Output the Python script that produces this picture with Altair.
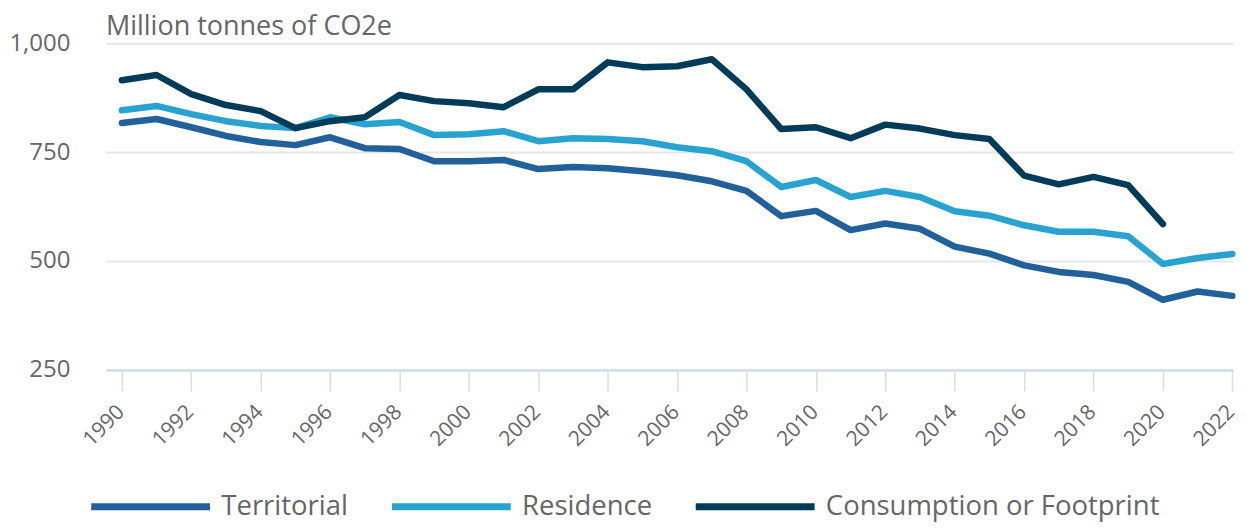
import altair as alt
import pandas as pd

years = list(range(1990, 2023))
territorial = [817, 826, 807, 787, 773, 766, 784, 759, 757, 729, 729, 732, 711, 716, 713,
               706, 697, 683, 661, 603, 615, 571, 586, 574, 533, 517, 490, 475, 468, 452,
               411, 430, 420]
residence = [846, 856, 837, 821, 810, 805, 830, 814, 819, 789, 791, 798, 775, 782, 780,
             775, 761, 752, 729, 670, 686, 647, 661, 647, 614, 604, 582, 567, 567, 557,
             493, 507, 516]
consumption = [915, 927, 883, 858, 844, 805, 821, 830, 881, 867, 862, 853, 894, 894, 956,
               945, 947, 963, 894, 803, 807, 782, 813, 804, 789, 780, 696, 676, 693, 674,
               585]

series = ["Territorial", "Residence", "Consumption or Footprint"]
colors = ["#22609a", "#28a3d0", "#003c57"]
tick_years = list(range(1990, 2023, 2))

rows = []
for name, vals in zip(series, [territorial, residence, consumption]):
    for yr, v in zip(years, vals):
        rows.append({"year": yr, "value": v, "series": name})
df = pd.DataFrame(rows)

font = "Open Sans"
grey = "#666666"

chart = alt.Chart(df).mark_line(strokeWidth=6.5, strokeCap="round", strokeJoin="round").encode(
    x=alt.X("year:Q",
            scale=alt.Scale(domain=[1989.54, 2022.02], nice=False, zero=False),
            axis=alt.Axis(values=tick_years, format="d", labelAngle=-45, title=None,
                          grid=False, tickSize=21, tickColor="#d5ddea", tickWidth=1.5,
                          domainColor="#d5ddea", domainWidth=2.5,
                          labelFontSize=21, labelColor=grey, labelFont=font,
                          labelAlign="right", labelBaseline="alphabetic",
                          labelPadding=22, labelOffset=3)),
    y=alt.Y("value:Q",
            scale=alt.Scale(domain=[250, 1000], nice=False, zero=False),
            axis=alt.Axis(values=[250, 500, 750, 1000], format=",d", title=None,
                          domain=False, ticks=False, gridColor="#e6e6e6", gridWidth=2,
                          labelFontSize=24, labelColor=grey, labelFont=font,
                          labelPadding=36)),
    color=alt.Color("series:N",
                    scale=alt.Scale(domain=series, range=colors),
                    legend=alt.Legend(title=None, orient="none", direction="horizontal",
                                      legendX=31, legendY=450,
                                      symbolType="M-8,0H8", symbolSize=221,
                                      symbolStrokeWidth=7,
                                      labelFontSize=27.5, labelColor=grey, labelFont=font,
                                      labelLimit=500,
                                      labelOffset=57, columnPadding=29)),
).properties(
    width=1128,
    height=327,
    padding={"left": 0, "top": 5, "right": 0, "bottom": 2},
    title=alt.TitleParams("Million tonnes of CO2e", anchor="start", frame="group",
                          fontSize=27, fontWeight="normal", color=grey, font=font,
                          offset=-10),
).configure_view(stroke=None)

chart.save("out.html", embed_options={"renderer": "svg", "actions": False})
